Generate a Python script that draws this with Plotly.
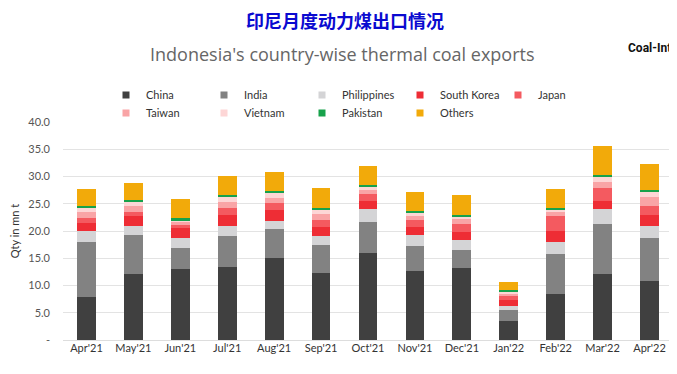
import plotly.graph_objects as go

months = ["Apr'21", "May'21", "Jun'21", "Jul'21", "Aug'21", "Sep'21", "Oct'21",
          "Nov'21", "Dec'21", "Jan'22", "Feb'22", "Mar'22", "Apr'22"]

china       = [7.8, 12.1, 13.0, 13.4, 15.0, 12.35, 16.0, 12.7, 13.2, 3.55, 8.4, 12.2, 10.8]
india       = [10.2, 7.2, 3.8, 5.7, 5.4, 5.05, 5.65, 4.5, 3.3, 1.95, 7.4, 9.0, 7.85]
philippines = [2.05, 1.7, 1.85, 1.9, 1.4, 1.7, 2.45, 2.0, 1.85, 0.7, 2.1, 2.8, 2.35]
south_korea = [1.35, 1.8, 1.85, 1.9, 2.05, 1.7, 1.45, 1.6, 1.55, 1.1, 2.15, 1.5, 1.9]
japan       = [1.05, 0.75, 0.6, 1.25, 1.25, 1.2, 1.15, 1.2, 1.3, 0.95, 2.7, 2.3, 1.75]
taiwan      = [1.1, 0.95, 0.7, 1.1, 0.9, 1.05, 0.8, 0.75, 0.95, 0.3, 0.8, 1.25, 1.55]
vietnam     = [0.75, 0.9, 0.2, 1.05, 1.0, 0.95, 0.75, 0.6, 0.6, 0.35, 0.45, 0.8, 0.9]
pakistan    = [0.2, 0.3, 0.3, 0.3, 0.4, 0.15, 0.25, 0.25, 0.25, 0.3, 0.3, 0.45, 0.4]
others      = [3.2, 3.2, 3.6, 3.55, 3.35, 3.65, 3.4, 3.55, 3.55, 1.4, 3.35, 5.3, 4.8]

tick_vals = [0, 5, 10, 15, 20, 25, 30, 35, 40]
tick_text = ["-", "5.0", "10.0", "15.0", "20.0", "25.0", "30.0", "35.0", "40.0"]

series = [
    ("China", china, "#404040", "legend"),
    ("India", india, "#828282", "legend"),
    ("Philippines", philippines, "#d4d4d6", "legend"),
    ("South Korea", south_korea, "#ee2d35", "legend"),
    ("Japan", japan, "#f45a60", "legend"),
    ("Taiwan", taiwan, "#f9a4a6", "legend2"),
    ("Vietnam", vietnam, "#fdd6d6", "legend2"),
    ("Pakistan", pakistan, "#17a24b", "legend2"),
    ("Others", others, "#f2aa0a", "legend2"),
]

# the page body adds an 8px offset; the figure is sized and placed to compensate
W, H = 669, 366

fig = go.Figure()
for name, vals, color, lg in series:
    fig.add_trace(go.Bar(x=months, y=vals, name=name, marker_color=color,
                         marker_line_width=0, showlegend=False, width=0.4))
for name, vals, color, lg in series:
    fig.add_trace(go.Scatter(x=[None], y=[None], mode="markers", name=name,
                             marker=dict(symbol="square", size=7, color=color),
                             legend=lg, showlegend=True))

legend_common = dict(orientation="h", xref="container", yref="container",
                     xanchor="left", yanchor="middle", entrywidth=53,
                     entrywidthmode="pixels", bgcolor="rgba(0,0,0,0)",
                     traceorder="normal",
                     font=dict(family="Lato, sans-serif", size=11, color="#333333"),
                     itemclick=False, tracegroupgap=0)

fig.update_layout(
    width=W, height=H,
    margin=dict(l=55, r=4, t=114, b=34, autoexpand=False),
    paper_bgcolor="white", plot_bgcolor="white",
    barmode="stack", bargap=0.6,
    font=dict(family="Lato, sans-serif", color="#444444"),
    legend=dict(x=98 / W, y=1 - 87 / H, **legend_common),
    legend2=dict(x=98 / W, y=1 - 105 / H, **legend_common),
    xaxis=dict(showgrid=False, tickfont=dict(size=11, color="#333333"),
               showline=False, ticks="", automargin=False),
    yaxis=dict(range=[0, 40], tickvals=tick_vals, ticktext=tick_text,
               showgrid=True, gridcolor="#e3e3e3", gridwidth=1,
               zeroline=True, zerolinecolor="#dddddd", zerolinewidth=1,
               tickfont=dict(size=11, color="#555555"), ticklabelstandoff=12,
               automargin=False,
               title=dict(text="Qty in mn t", font=dict(size=11, color="#333333"),
                          standoff=10)),
    annotations=[
        dict(text="<b>印尼月度动力煤出口情况</b>", xref="paper", yref="paper",
             x=(345 - 63) / 610, y=1 + (122 - 20) / 218, xanchor="center",
             yanchor="middle", showarrow=False,
             font=dict(family="Noto Sans CJK SC", size=18, color="#0a0ad0")),
        dict(text="Indonesia's country-wise thermal coal exports", xref="paper",
             yref="paper", x=(342 - 63) / 610, y=1 + (122 - 54) / 218,
             xanchor="center", yanchor="middle", showarrow=False,
             font=dict(family="Open Sans", size=18, color="#666666")),
        dict(text="<b>Coal-Int</b>", xref="paper", yref="paper",
             x=1.0, y=1 + (122 - 48) / 218, xanchor="right",
             yanchor="middle", showarrow=False,
             font=dict(family="Roboto", size=12, color="#111111")),
    ],
)

fig.write_html("out.html")
